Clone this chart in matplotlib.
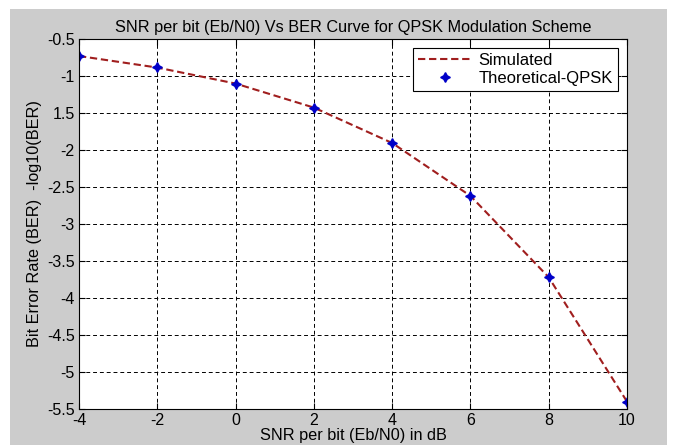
import matplotlib
matplotlib.use("Agg")
import matplotlib.pyplot as plt
from matplotlib.patches import Rectangle

snr_db = [-4, -2, 0, 2, 4, 6, 8, 10]
ber_simulated = [-0.73, -0.886, -1.102, -1.427, -1.905, -2.62, -3.72, -5.40]
ber_theoretical = [-0.73, -0.884, -1.104, -1.426, -1.903, -2.621, -3.719, -5.412]

x_ticks = [-4, -2, 0, 2, 4, 6, 8, 10]
y_ticks = [-0.5, -1, -1.5, -2, -2.5, -3, -3.5, -4, -4.5, -5, -5.5]
y_tick_labels = ["-0.5", "-1", "1.5", "-2", "-2.5", "-3", "-3.5", "-4", "-4.5", "-5", "-5.5"]

plt.rcParams["font.family"] = ["Liberation Sans", "DejaVu Sans"]
plt.rcParams["axes.unicode_minus"] = False

W, H = 673, 445
fig = plt.figure(figsize=(W / 100, H / 100), dpi=100, facecolor="white")
# grey window area of the screenshot, white strip on top / left / right
fig.patches.append(Rectangle((10 / W, 0), 657 / W, 436 / H, transform=fig.transFigure,
                             facecolor="#cccccc", edgecolor="none", zorder=-1))

ax = fig.add_axes([79 / W, 1 - 409 / H, 548 / W, 370 / H])
ax.set_facecolor("white")

ax.plot(snr_db, ber_simulated, linestyle=(0, (3.5, 1.8)), color="#a01e1e",
        linewidth=1.5, label="Simulated")
ax.plot(snr_db, ber_theoretical, linestyle="none", marker=(4, 1, 0),
        markersize=7, color="#0000c8", label="Theoretical-QPSK")

ax.set_xlim(-4, 10)
ax.set_ylim(-5.5, -0.5)
ax.set_xticks(x_ticks)
ax.set_yticks(y_ticks)
ax.set_yticklabels(y_tick_labels)
ax.tick_params(direction="in", length=4.5, top=True, right=True, labelsize=11.5,
               colors="black", pad=3)
ax.grid(True, linestyle=(0, (4, 3)), color="black", linewidth=0.7)
for spine in ax.spines.values():
    spine.set_linewidth(0.8)

ax.set_title("SNR per bit (Eb/N0) Vs BER Curve for QPSK Modulation Scheme",
             fontsize=11.7, pad=5)
ax.set_xlabel("SNR per bit (Eb/N0) in dB", fontsize=11.7, labelpad=0)
ax.set_ylabel("Bit Error Rate (BER)  -log10(BER)", fontsize=11.7, labelpad=4)

leg = ax.legend(loc="upper right", fancybox=False, framealpha=1,
                edgecolor="black", fontsize=12, borderaxespad=0.54,
                handlelength=3.2, handletextpad=0.42, borderpad=0.3,
                labelspacing=0.2)
leg.get_frame().set_linewidth(0.8)

fig.savefig("out.png", dpi=100, facecolor=fig.get_facecolor())
